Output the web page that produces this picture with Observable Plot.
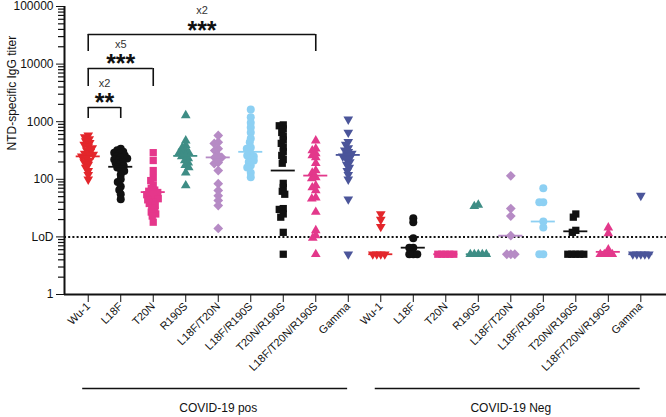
<!DOCTYPE html>
<html><head><meta charset="utf-8">
<script src="https://cdn.jsdelivr.net/npm/d3@7"></script>
<script src="https://cdn.jsdelivr.net/npm/@observablehq/plot@0.6"></script>
<style>
body{margin:0;background:#fff}
svg g[aria-label^="x-axis"] text{font-size:11px !important}
svg g[aria-label^="y-axis"] text{font-size:12px !important}
</style>
</head><body><div id="chart"></div>
<script>
// ---- categories ----
const variants = ["Wu-1","L18F","T20N","R190S","L18F/T20N","L18F/R190S","T20N/R190S","L18F/T20N/R190S","Gamma"];
const cohorts = ["COVID-19 pos","COVID-19 Neg"];

// ---- values: COVID-19 pos sera ----
const wu1Pos = [580,540,500,460,430,400,370,350,320,300,280,270,260,250,230,210,200,180,160,140,120,100];
const l18fPos = [340,320,300,290,280,260,250,240,230,220,210,200,190,180,170,160,150,140,120,100,90,75,65,55,45];
const t20nPos = [290,212,142,107,95,80,70,65,62,59,56,54,50,48,46,44,40,38,35,32,29,27,25,23,18];
const r190sPos = [1290,470,390,356,320,300,290,280,260,250,230,212,195,175,160,130,78];
const l18fT20nPos = [576,440,420,340,316,260,240,240,195,188,142,84,64,52,43,35,14];
const l18fR190sPos = [1630,1200,960,790,650,510,440,356,340,280,260,250,230,212,200,174,160,130,108];
const t20nR190sPos = [880,850,750,650,560,480,420,360,300,260,220,190,85,72,62,55,31,30,25,22,12,5];
const l18fT20nR190sPos = [470,340,316,280,259,240,190,142,130,108,103,78,72,64,48,46,27,13,10.6,9.6,5];
const gammaPos = [1100,650,450,400,350,320,300,280,260,250,240,220,200,180,160,140,120,100,45,5];

// ---- values: COVID-19 Neg sera ----
const wu1Neg = [25,20,15,5,5,5,5];
const l18fNeg = [21,18,9.5,6.5,6.5,5,5,5];
const t20nNeg = [5,5,5,5,5];
const r190sNeg = [36,34,5,5,5,5,5];
const l18fT20nNeg = [115,31,23,10.5,5,5,5];
const l18fR190sNeg = [70,40,40,18.5,14.5,5,5];
const t20nR190sNeg = [25,22,13,12,5,5,5,5,5];
const l18fT20nR190sNeg = [14.5,11.5,6,5,5,5,5];
const gammaNeg = [52,5,5,5,5,5];

// ---- group mean lines ----
const posMeans = [250,165,60,255,240,300,142,116,265];
const negMeans = [5,6.5,5,5,10.5,18.5,12.5,5.5,5];

// ---- y axis ----
const LoD = 10;
const yTicks = [1,10,100,1000,10000,100000];
const yTickLabels = ["1","LoD","100","1000","10000","100000"];

// ---- comparisons ----
const compPairs = [["Wu-1","L18F"],["Wu-1","T20N"],["Wu-1","L18F/T20N/R190S"]];
const compTop = [1765,8390,32650];
const compLeg = [1136,4084,16550];
const compStars = ["**","***","***"];
const compFold = ["x2","x5","x2"];

// ---- layout ----
const W = 666, H = 417;
const mTop = 6, mBottom = 123, mLeft = 64, mRight = 0;
const xDomain = [-0.73, 17.79];
const yDomain = [1, 100000];
const xs = Plot.scale({x: {domain: xDomain, range: [mLeft, W - mRight]}});
const ys = Plot.scale({y: {type: "log", domain: yDomain, range: [H - mBottom, mTop]}});

const colors = ["#e3262b","#111111","#e5378b","#3e8d85","#b68bc5","#8dd0f3","#111111","#e3388b","#4b559a"];
const downTri = {draw(ctx, size){const y = Math.sqrt(size/(3*Math.sqrt(3))); ctx.moveTo(0, 2*y); ctx.lineTo(-Math.sqrt(3)*y, -y); ctx.lineTo(Math.sqrt(3)*y, -y); ctx.closePath();}};
const diamond = {draw(ctx, size){const r = Math.sqrt(size/2); ctx.moveTo(0,-r); ctx.lineTo(r,0); ctx.lineTo(0,r); ctx.lineTo(-r,0); ctx.closePath();}};
const symbols = [downTri,"circle","square","triangle",diamond,"circle","square","triangle",downTri];
const radii = [3.6,4,4.1,3.6,3.9,4,4.1,3.6,3.6];

function swarmOffsets(vals, D) {
  const py = vals.map(v => ys.apply(v));
  const order = d3.range(vals.length).sort((a, b) => py[a] - py[b]);
  const placed = [], off = new Array(vals.length).fill(0);
  for (const i of order) {
    for (let s = 0; s < 400; s++) {
      const c = (s % 2 ? -1 : 1) * Math.ceil(s / 2) * 0.5;
      if (placed.every(j => (off[j] - c) ** 2 + (py[j] - py[i]) ** 2 >= D * D)) { off[i] = c; break; }
    }
    placed.push(i);
  }
  return off;
}

const posArrays = [wu1Pos,l18fPos,t20nPos,r190sPos,l18fT20nPos,l18fR190sPos,t20nR190sPos,l18fT20nR190sPos,gammaPos];
const negArrays = [wu1Neg,l18fNeg,t20nNeg,r190sNeg,l18fT20nNeg,l18fR190sNeg,t20nR190sNeg,l18fT20nR190sNeg,gammaNeg];
const rows = [];
[posArrays, negArrays].forEach((arrs, c) => arrs.forEach((vals, k) => {
  const idx = c * 9 + k;
  const offs = swarmOffsets(vals, 3.8);
  vals.forEach((v, j) => rows.push({cohort: cohorts[c], variant: variants[k], k, idx, value: v,
    x: xs.invert(xs.apply(idx) + offs[j])}));
}));
const means = [...posMeans.map((m, k) => ({k, idx: k, m})), ...negMeans.map((m, k) => ({k, idx: 9 + k, m}))];
const comps = compPairs.map(([a, b], i) => ({a: variants.indexOf(a), b: variants.indexOf(b), top: compTop[i], leg: compLeg[i], stars: compStars[i], fold: compFold[i]}));
const spans = cohorts.map((c, i) => ({c, first: i * 9, last: i * 9 + 8}));
const minorTicks = [];
for (let e = 0; e < 5; e++) for (let m = 2; m <= 9; m++) minorTicks.push(m * 10 ** e);
const axisX0 = xDomain[0];
const minorX1 = xs.invert(mLeft - 6);

const marks = [
  Plot.ruleY([LoD], {strokeDasharray: "2,2.2", strokeWidth: 2, stroke: "#111"}),
  Plot.ruleY(minorTicks, {y: d => d, x1: minorX1, x2: axisX0, strokeWidth: 1.2, stroke: "#111"}),
  Plot.ruleY([1], {strokeWidth: 2, stroke: "#111"}),
  Plot.ruleX([axisX0], {strokeWidth: 2, stroke: "#111"}),
];
for (let k = 0; k < 9; k++) {
  marks.push(Plot.dot(rows.filter(d => d.k === k), {x: "x", y: "value", fill: colors[k], symbol: symbols[k], r: radii[k]}));
}
for (let k = 0; k < 9; k++) {
  marks.push(Plot.ruleY(means.filter(d => d.k === k), {y: "m", x1: d => d.idx - 0.37, x2: d => d.idx + 0.37, stroke: colors[k], strokeWidth: 1.8}));
}
marks.push(
  Plot.ruleY(comps, {y: "top", x1: "a", x2: "b", strokeWidth: 1.6, stroke: "#111"}),
  Plot.ruleX(comps, {x: "a", y1: "leg", y2: "top", strokeWidth: 1.6, stroke: "#111"}),
  Plot.ruleX(comps, {x: "b", y1: "leg", y2: "top", strokeWidth: 1.6, stroke: "#111"}),
  Plot.text(comps, {x: d => (d.a + d.b) / 2, y: "top", text: "stars", fontSize: 25, fontWeight: "bold", lineAnchor: "bottom", dy: 4, fill: "#111"}),
  Plot.text(comps, {x: d => (d.a + d.b) / 2, y: "top", text: "fold", fontSize: 11, dy: -24, fill: "#333"}),
  Plot.text(["NTD-specific IgG titer"], {frameAnchor: "left", text: d => d, dx: -52, rotate: -90, fontSize: 12, fill: "#111"}),
  Plot.ruleY(spans, {y: () => 1, x1: d => d.first - 0.17, x2: d => d.last - 0.02, dy: 94, strokeWidth: 1.5, stroke: "#111"}),
  Plot.text(spans, {x: d => (d.first + d.last) / 2, y: () => 1, text: "c", dy: 114, fontSize: 12, fill: "#111"})
);

const chart = Plot.plot({
  width: W, height: H,
  marginTop: mTop, marginBottom: mBottom, marginLeft: mLeft, marginRight: mRight,
  style: {fontFamily: "'Liberation Sans', Arial, sans-serif", fontSize: "12px", background: "#fff", color: "#111", overflow: "visible"},
  x: {domain: xDomain, ticks: d3.range(18), tickFormat: i => variants[i % 9], tickRotate: -45, tickSize: 8, tickPadding: 2, label: null},
  y: {type: "log", domain: yDomain, ticks: yTicks, tickFormat: d => yTickLabels[yTicks.indexOf(d)], tickSize: 8, tickPadding: 3, label: null},
  marks
});
document.getElementById("chart").appendChild(chart);
</script>
</body></html>
